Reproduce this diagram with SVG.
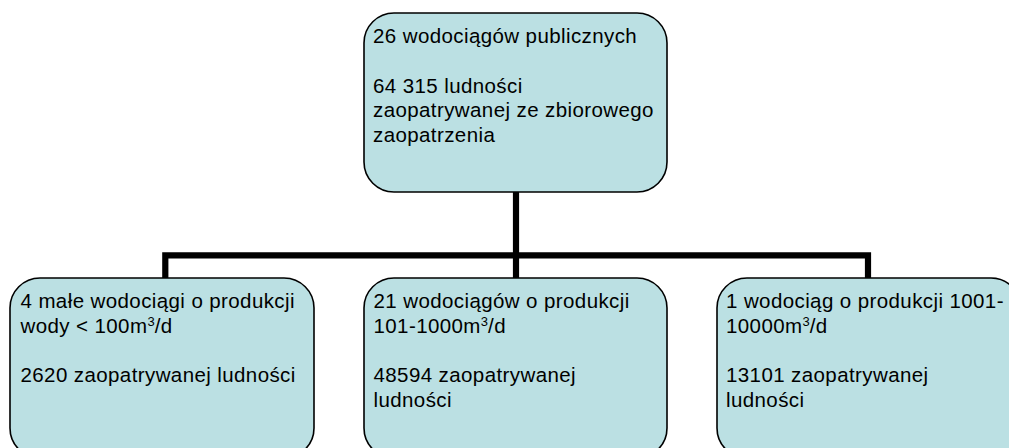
<svg xmlns="http://www.w3.org/2000/svg" width="1009" height="448" viewBox="0 0 1009 448">
<style>
.box{fill:#BBE0E3;stroke:#000;stroke-width:1.6}
.t{font-family:"Liberation Sans",Arial,sans-serif;font-size:20.5px;letter-spacing:0.4px;fill:#000}
.conn{fill:none;stroke:#000;stroke-width:6.2;stroke-linejoin:miter}
.sup{font-size:13px;letter-spacing:0}
</style>
<rect width="1009" height="448" fill="#fff"/>
<g id="connectors">
<path class="conn" d="M516,192 V278"/>
<path class="conn" d="M165.3,278 V255.3 H868 V278"/>
</g>
<g id="node-top">
<rect class="box" x="364" y="13" width="303" height="179" rx="30" ry="30"/>
<text class="t" x="373" y="43.3">26 wodociągów publicznych</text>
<text class="t" x="373" y="92.7">64 315 ludności</text>
<text class="t" x="373" y="117.4">zaopatrywanej ze zbiorowego</text>
<text class="t" x="373" y="142.1">zaopatrzenia</text>
</g>
<g id="node-left">
<rect class="box" x="10" y="278" width="304" height="180" rx="30" ry="30"/>
<text class="t" x="20.5" y="308.3">4 małe wodociągi o produkcji</text>
<text class="t" x="20.5" y="333">wody &lt; 100m<tspan class="sup" dy="-7">3</tspan><tspan dy="7">/d</tspan></text>
<text class="t" x="20.5" y="382">2620 zaopatrywanej ludności</text>
</g>
<g id="node-middle">
<rect class="box" x="364" y="278" width="303" height="180" rx="30" ry="30"/>
<text class="t" x="373.5" y="308.3">21 wodociągów o produkcji</text>
<text class="t" x="373.5" y="333">101-1000m<tspan class="sup" dy="-7">3</tspan><tspan dy="7">/d</tspan></text>
<text class="t" x="373.5" y="382">48594 zaopatrywanej</text>
<text class="t" x="373.5" y="406.7">ludności</text>
</g>
<g id="node-right">
<rect class="box" x="717" y="278" width="304" height="180" rx="30" ry="30"/>
<text class="t" x="726" y="308.3">1 wodociąg o produkcji 1001-</text>
<text class="t" x="726" y="333">10000m<tspan class="sup" dy="-7">3</tspan><tspan dy="7">/d</tspan></text>
<text class="t" x="726" y="382">13101 zaopatrywanej</text>
<text class="t" x="726" y="406.7">ludności</text>
</g>
</svg>
